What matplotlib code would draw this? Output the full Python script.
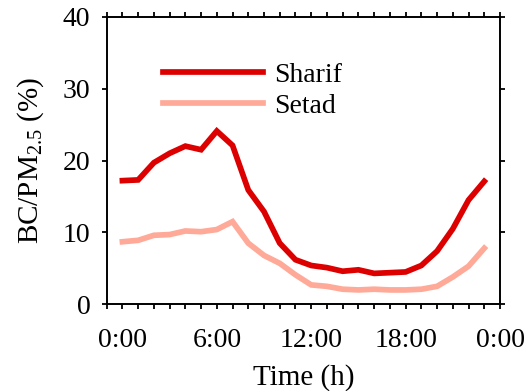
import matplotlib
matplotlib.use("Agg")
import matplotlib.pyplot as plt
from matplotlib.ticker import MultipleLocator

hours = list(range(24))
sharif = [17.2, 17.3, 19.7, 21.0, 22.0, 21.5, 24.1, 22.1, 15.9, 12.9, 8.5, 6.2,
          5.4, 5.1, 4.6, 4.8, 4.3, 4.4, 4.5, 5.4, 7.4, 10.5, 14.5, 17.1]
setad = [8.7, 8.9, 9.6, 9.7, 10.2, 10.1, 10.4, 11.5, 8.5, 6.8, 5.7, 4.1,
         2.7, 2.5, 2.1, 2.0, 2.1, 2.0, 2.0, 2.1, 2.5, 3.8, 5.3, 7.8]
xtick_pos = [0, 6, 12, 18, 24]
xtick_labels = ["0:00", "6:00", "12:00", "18:00", "0:00"]
yticks = [0, 10, 20, 30, 40]

plt.rcParams['font.family'] = ['Liberation Serif', 'DejaVu Serif']
plt.rcParams['mathtext.fontset'] = 'custom'
plt.rcParams['mathtext.rm'] = 'Liberation Serif'
plt.rcParams['mathtext.it'] = 'Liberation Serif:italic'

fig = plt.figure(figsize=(5.30, 3.91), dpi=100)
ax = fig.add_axes([0.2013, 0.2217, 0.9434 - 0.2013, 0.9573 - 0.2217])

ax.plot(hours, sharif, color='#dd0000', lw=4.1, label='Sharif', solid_joinstyle='miter')
ax.plot(hours, setad, color='#ffaa98', lw=4.1, label='Setad', solid_joinstyle='miter')

ax.set_xlim(-1, 24)
ax.set_ylim(0, 40)
ax.set_xticks(xtick_pos)
ax.set_xticklabels(xtick_labels)
ax.xaxis.set_minor_locator(MultipleLocator(1))
ax.set_yticks(yticks)

for s in ax.spines.values():
    s.set_linewidth(1.4)
ax.tick_params(which='both', direction='out', top=True, right=True, labelsize=20,
               width=1.4, color='#111111', length=3.8)
ax.tick_params(axis='x', which='major', pad=13)
ax.tick_params(axis='y', which='major', pad=8)

ax.set_xlabel('Time (h)', fontsize=21, labelpad=8)
ax.set_ylabel('BC/PM$_{2.5}$ (%)', fontsize=21, labelpad=12)

ax.legend(loc='upper left', bbox_to_anchor=(0.143, 0.84), frameon=False, fontsize=20,
          handlelength=3.6, handletextpad=0.4, labelspacing=0.2, borderaxespad=0,
          borderpad=0)

fig.savefig('out.png', dpi=100)
